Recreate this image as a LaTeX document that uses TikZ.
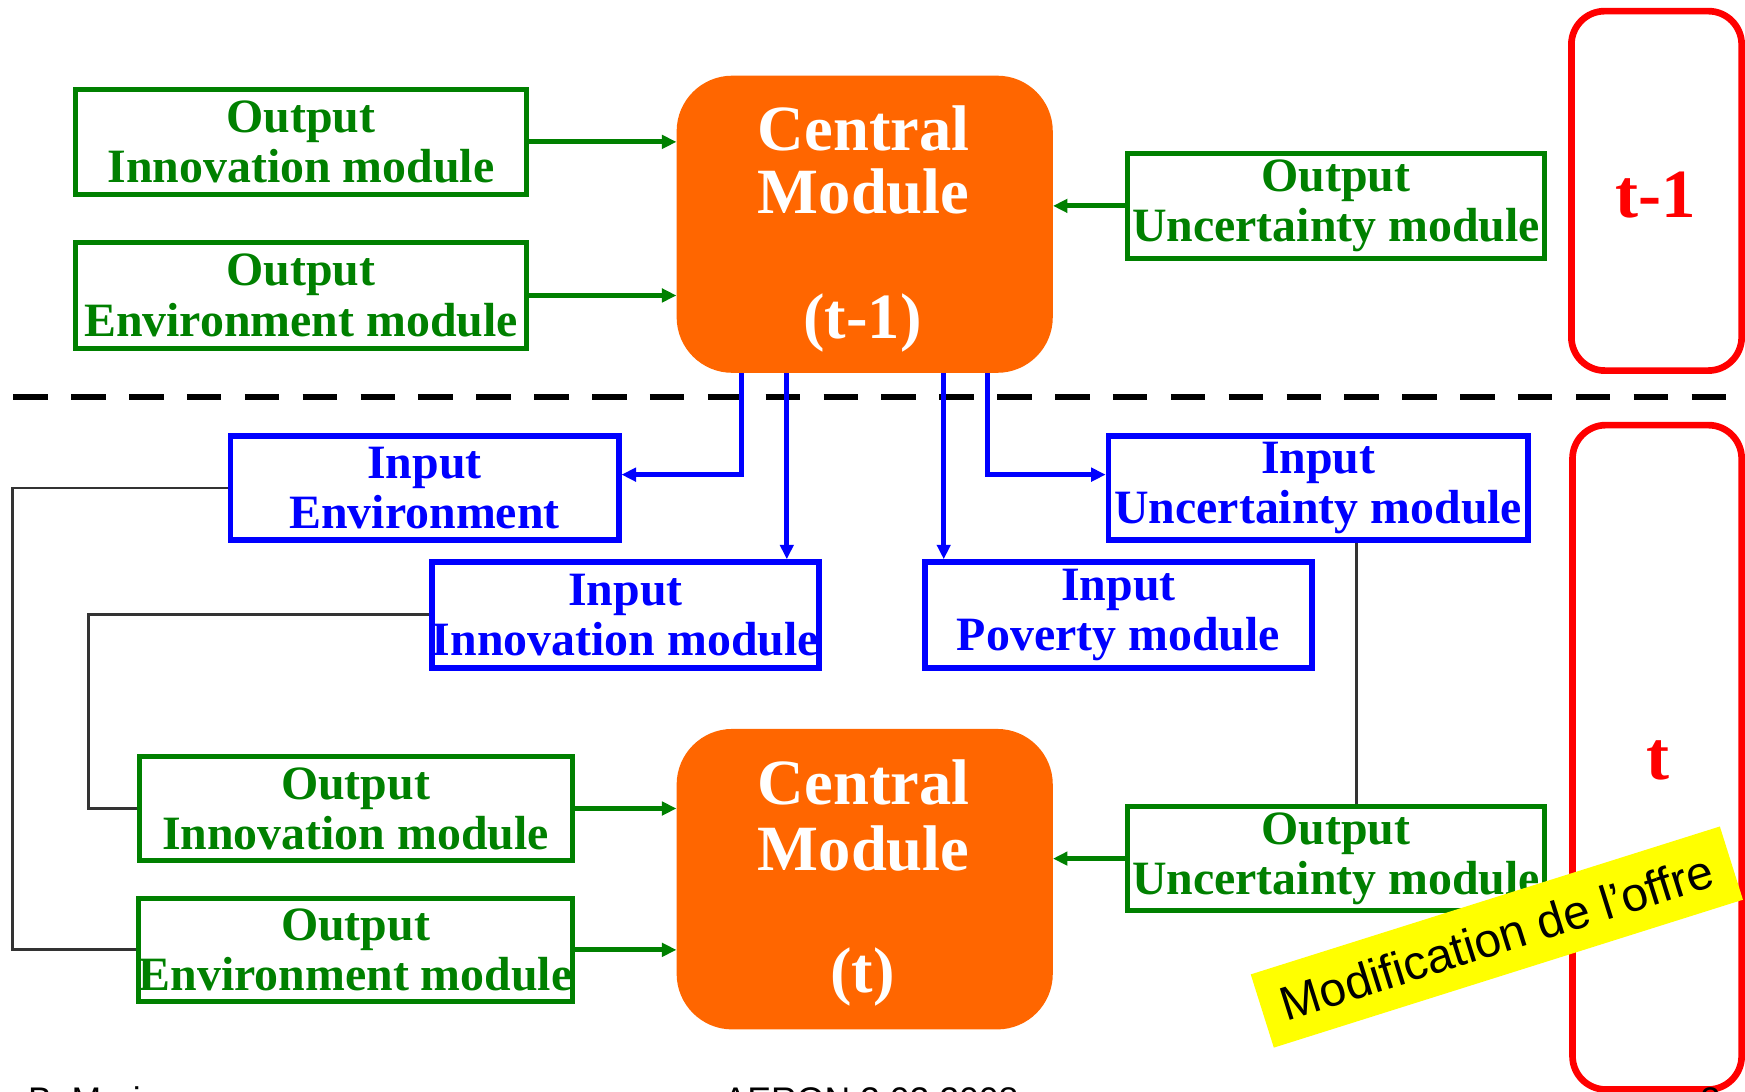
\documentclass[tikz,border=0pt]{standalone}
\usepackage{fontspec}
\setmainfont{Liberation Serif}
\newfontfamily\arialf{Liberation Sans}
\usetikzlibrary{arrows.meta,calc}
\definecolor{grn}{RGB}{0,128,0}
\definecolor{blu}{RGB}{0,0,255}
\definecolor{orng}{RGB}{255,102,0}
\definecolor{rd}{RGB}{255,0,0}
\definecolor{ylw}{RGB}{255,255,0}
\definecolor{dk}{RGB}{51,51,51}
\begin{document}
\begin{tikzpicture}[x=1pt,y=-1pt,
 boxfont/.style={font=\fontsize{43}{45}\selectfont\bfseries},
 gbox/.style={draw=grn, line width=4.5pt, text=grn, boxfont, align=center, inner sep=0pt},
 bbox/.style={draw=blu, line width=5pt, text=blu, boxfont, align=center, inner sep=0pt},
 cmod/.style={fill=orng, rounded corners=50pt, minimum width=338pt, inner sep=0pt},
 cmtext/.style={text=white, font=\fontsize{58}{62}\selectfont\bfseries, inner sep=0pt},
 tbox/.style={draw=rd, line width=6pt, rounded corners=30pt, inner sep=0pt},
 tlabel/.style={text=rd, font=\fontsize{62}{66}\selectfont\bfseries, inner sep=0pt},
 garrow/.style={draw=grn, line width=4.5pt, -{Triangle[length=13pt,width=12pt]}},
 barrow/.style={draw=blu, line width=4.5pt, -{Triangle[length=13pt,width=12pt]}},
 link/.style={draw=dk, line width=2.5pt},
 foot/.style={font=\arialf\fontsize{32}{36}\selectfont, inner sep=0pt, anchor=base west},
]
\useasboundingbox (0,0) rectangle (1568,981.2);
\clip (0,0) rectangle (1568,981.2);

% ---------- t-1 level ----------
\node[gbox, minimum width=405pt, minimum height=95pt] (oi1) at (270.5,127.5) {Output\\Innovation module};
\node[gbox, minimum width=405pt, minimum height=95pt] (oe1) at (270.5,265.5) {Output\\Environment module};
\node[cmod, minimum height=267pt] (cm1) at (777,201.5) {};
\node[cmtext] (cm1a) at (776,115) {Central};
\node[cmtext] (cm1b) at (776,172) {Module};
\node[cmtext] (cm1c) at (775,290) {(t-1)};
\node[gbox, minimum width=375pt, minimum height=94pt] (ou1) at (1200.5,185) {Output\\Uncertainty module};
\node[tbox, minimum width=153pt, minimum height=323pt] (r1) at (1488.5,171.5) {};
\node[tlabel] (r1t) at (1488,175) {t-1};

\draw[garrow] (oi1.east) -- (oi1.east -| cm1.west);
\draw[garrow] (oe1.east) -- (oe1.east -| cm1.west);
\draw[garrow] (ou1.west) -- (ou1.west -| cm1.east);

% ---------- separator ----------
\coordinate (dl) at (12,357);
\coordinate (dr) at (1562,357);
\draw[black, line width=5.5pt, dash pattern=on 31pt off 21pt] (dl) -- (dr);

% ---------- inputs ----------
\node[bbox, minimum width=349pt, minimum height=93pt] (ie) at (381.5,438.5) {Input\\Environment};
\node[bbox, minimum width=348pt, minimum height=95pt] (ii) at (562,552.5) {Input\\Innovation module};
\node[bbox, minimum width=348pt, minimum height=95pt] (ip) at (1005,552.5) {Input\\Poverty module};
\node[bbox, minimum width=377pt, minimum height=93pt] (iu) at (1184.5,438.5) {Input\\Uncertainty module};

\coordinate (b1) at ([xshift=-111pt]cm1.south);
\coordinate (b2) at ([xshift=-70pt]cm1.south);
\coordinate (b3) at ([xshift=71pt]cm1.south);
\coordinate (b4) at ([xshift=110pt]cm1.south);
\draw[barrow] (b1) |- ([yshift=12pt]ie.east);
\draw[barrow] (b2) -- (b2 |- ii.north);
\draw[barrow] (b3) -- (b3 |- ip.north);
\draw[barrow] (b4) |- ([yshift=12pt]iu.west);

% ---------- t level ----------
\node[gbox, minimum width=389pt, minimum height=93pt] (oi2) at (319.5,726.5) {Output\\Innovation module};
\node[gbox, minimum width=389pt, minimum height=93pt] (oe2) at (319.5,853.5) {Output\\Environment module};
\node[cmod, minimum height=270pt] (cm2) at (777,790) {};
\node[cmtext] (cm2a) at (776,703) {Central};
\node[cmtext] (cm2b) at (776,762) {Module};
\node[cmtext] (cm2c) at (775,878) {(t)};
\node[gbox, minimum width=375pt, minimum height=93pt] (ou2) at (1200.5,771.5) {Output\\Uncertainty module};
\node[tbox, minimum width=152pt, minimum height=597pt] (r2) at (1489,680.5) {};
\node[tlabel] (r2t) at (1490,683) {t};

\draw[garrow] (oi2.east) -- (oi2.east -| cm2.west);
\draw[garrow] (oe2.east) -- (oe2.east -| cm2.west);
\draw[garrow] (ou2.west) -- (ou2.west -| cm2.east);

% ---------- feedback links ----------
\draw[link] (ie.west) -| ([xshift=-111pt]oe2.west) -- (oe2.west);
\draw[link] (ii.west) -| ([xshift=-43pt]oi2.west) -- (oi2.west);
\coordinate (u1) at ([xshift=34.5pt]iu.south);
\draw[link] (u1) -- (u1 |- ou2.north);

% ---------- banner ----------
\node[fill=ylw, rotate=17.5, minimum width=442pt, minimum height=69pt, inner sep=0pt,
      font=\arialf\fontsize{43}{46}\selectfont] (ban) at (1345,842) {Modification de l’offre};

% ---------- footer ----------
\node[foot] (f1) at (25,999.5) {B. Morin};
\node[foot] (f2) at (650,999.5) {AERON 2.02.2008};
\node[foot] (f3) at (1528,999.5) {3};
\end{tikzpicture}
\end{document}
